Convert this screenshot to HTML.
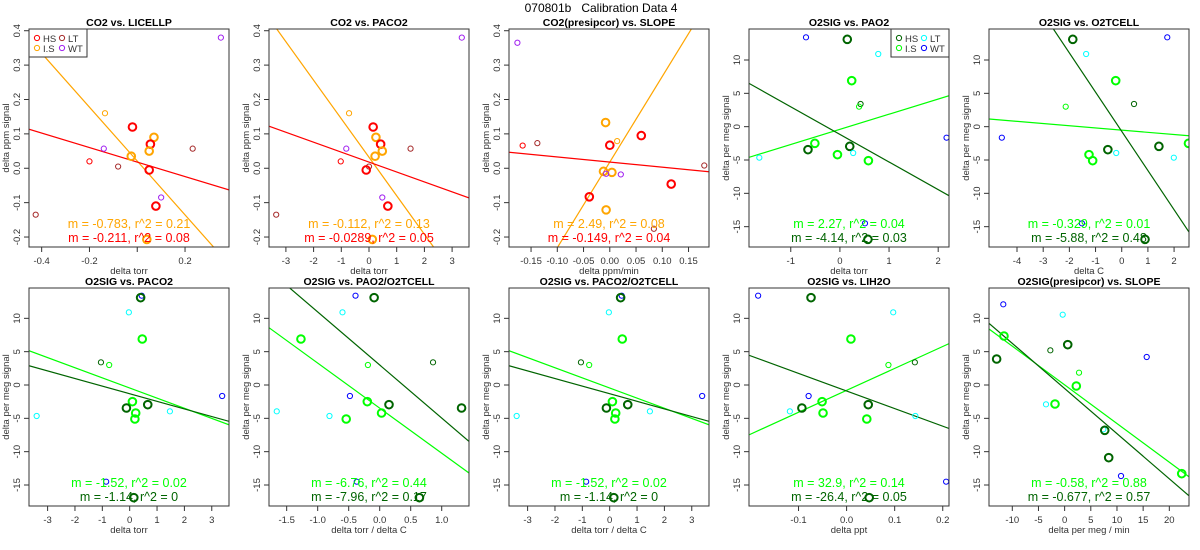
<!DOCTYPE html>
<html><head><meta charset="utf-8">
<style>
html,body{margin:0;padding:0;background:#fff;}
svg{display:block;font-family:"Liberation Sans",Arial,sans-serif;}
</style></head>
<body>
<svg id="chart" width="1200" height="550" viewBox="0 0 1200 550" xmlns="http://www.w3.org/2000/svg">
<text x="601" y="12" text-anchor="middle" font-size="12" fill="#000" style="white-space:pre">070801b   Calibration Data 4</text>
</svg>
<script>
// ---- shared data ----
const co2Groups = ["WT","LS","HS","LS","HS","WT","LS","LT","LS","HS","LT","HS","WT","HS","LT","LS"];
const co2Big    = [0,0,1,1,1,0,1,0,1,0,0,1,0,1,0,1];
const co2Y      = [0.38,0.16,0.12,0.09,0.07,0.057,0.05,0.057,0.035,0.02,0.005,-0.005,-0.085,-0.11,-0.135,-0.207];
const p1X       = [0.35,-0.135,-0.02,0.07,0.055,-0.14,0.05,0.232,-0.025,-0.2,-0.08,0.05,0.1,0.078,-0.425,0.04];
const p2X       = [3.35,-0.72,0.15,0.25,0.42,-0.82,0.48,1.5,0.22,-1.02,0.0,-0.1,0.48,0.68,-3.35,0.12];
const p3Groups  = ["WT","HS","LT","LS","HS","LS","HS","LS","LS","WT","WT","LT","HS","HS","LS","LT"];
const p3Big     = [0,0,0,1,1,0,1,1,1,0,0,0,1,1,1,0];
const p3X       = [-0.176,-0.166,-0.138,-0.008,0.060,0.014,0.000,-0.012,0.004,-0.007,0.021,0.180,0.117,-0.039,-0.007,0.084];
const p3Y       = [0.365,0.066,0.073,0.133,0.095,0.079,0.067,-0.009,-0.012,-0.016,-0.018,0.008,-0.046,-0.083,-0.121,-0.176];

const o2Groups = ["WT","HS","LT","LS","HS","LS","WT","LS","HS","HS","LT","LS","LT","LS","WT","HS"];
const o2Big    = [0,1,0,1,0,0,0,1,1,1,0,1,0,1,0,1];
const o2Y      = [13.4,13.1,10.9,6.9,3.4,3.0,-1.65,-2.5,-3.45,-2.95,-3.95,-4.2,-4.65,-5.1,-14.5,-16.9];
const p4X      = [-0.69,0.15,0.78,0.24,0.42,0.39,2.17,-0.51,-0.65,0.2,0.27,-0.05,-1.64,0.58,0.51,0.57];
const p5X      = [1.74,-1.87,-1.36,-0.23,0.47,-2.14,-4.58,2.55,-0.53,1.42,-0.21,-1.25,1.99,-1.11,-1.52,0.89];
const r2p1X    = [0.44,0.40,-0.03,0.46,-1.05,-0.75,3.38,0.10,-0.12,0.66,1.47,0.22,-3.40,0.19,-0.86,0.15];
const r2p2X    = [-0.39,-0.09,-0.60,-1.27,0.86,-0.19,-0.48,-0.20,1.32,0.15,-1.66,0.03,-0.81,-0.54,-0.37,0.64];
const r2p4X    = [-0.184,-0.074,0.097,0.009,0.142,0.087,-0.079,-0.051,-0.093,0.045,-0.118,-0.049,0.143,0.042,0.207,0.047];
const r2p5Groups = ["WT","LT","LS","HS","HS","HS","WT","LS","LS","LT","LS","LT","HS","HS","WT","LS"];
const r2p5Big    = [0,0,1,1,1,0,0,0,1,0,1,0,1,1,0,1];
const r2p5X      = [-11.72,-0.37,-11.59,-12.99,0.59,-2.73,15.68,2.75,2.23,-3.56,-1.84,7.39,7.66,8.42,10.77,22.37];
const r2p5Y      = [12.1,10.55,7.35,3.9,6.05,5.2,4.2,1.85,-0.15,-2.9,-2.85,-6.65,-6.8,-10.9,-13.65,-13.3];

// fits: [slope, intercept] for first (LS) and second (HS) line
const fitSlopes     = [[-0.783,-0.211],[-0.112,-0.0289],[2.49,-0.149],[2.27,-4.14],[-0.329,-5.88],
                       [-1.52,-1.14],[-6.76,-7.96],[-1.52,-1.14],[32.9,-26.4],[-0.58,-0.677]];
const fitIntercepts = [[0.021,0.018],[0.032,0.018],[0.018,0.018],[-0.4,-1.16],[-0.52,-0.7],
                       [-0.45,-1.31],[-3.47,3.0],[-0.45,-1.31],[-0.8,-0.9],[0.02,-0.53]];
const fitLabels = [["m = -0.783, r^2 = 0.21","m = -0.211, r^2 = 0.08"],
                   ["m = -0.112, r^2 = 0.13","m = -0.0289, r^2 = 0.05"],
                   ["m = 2.49, r^2 = 0.08","m = -0.149, r^2 = 0.04"],
                   ["m = 2.27, r^2 = 0.04","m = -4.14, r^2 = 0.03"],
                   ["m = -0.329, r^2 = 0.01","m = -5.88, r^2 = 0.48"],
                   ["m = -1.52, r^2 = 0.02","m = -1.14, r^2 = 0"],
                   ["m = -6.76, r^2 = 0.44","m = -7.96, r^2 = 0.17"],
                   ["m = -1.52, r^2 = 0.02","m = -1.14, r^2 = 0"],
                   ["m = 32.9, r^2 = 0.14","m = -26.4, r^2 = 0.05"],
                   ["m = -0.58, r^2 = 0.88","m = -0.677, r^2 = 0.57"]];
const titles = ["CO2 vs. LICELLP","CO2 vs. PACO2","CO2(presipcor) vs. SLOPE","O2SIG vs. PAO2","O2SIG vs. O2TCELL",
                "O2SIG vs. PACO2","O2SIG vs. PAO2/O2TCELL","O2SIG vs. PACO2/O2TCELL","O2SIG vs. LIH2O","O2SIG(presipcor) vs. SLOPE"];
const xTitles = ["delta torr","delta torr","delta ppm/min","delta torr","delta C",
                 "delta torr","delta torr / delta C","delta torr / delta C","delta ppt","delta per meg / min"];
const xTicks = [[-0.4,-0.2,0,0.2],[-3,-2,-1,0,1,2,3],[-0.15,-0.1,-0.05,0,0.05,0.1,0.15],[-1,0,1,2],[-4,-3,-2,-1,0,1,2],
                [-3,-2,-1,0,1,2,3],[-1.5,-1,-0.5,0,0.5,1],[-3,-2,-1,0,1,2,3],[-0.1,0,0.1,0.2],[-10,-5,0,5,10,15,20]];
const xTickLabels = [["-0.4","-0.2","","0.2"],["-3","-2","-1","0","1","2","3"],
                ["-0.15","-0.10","-0.05","0.00","0.05","0.10","0.15"],["-1","0","1","2"],["-4","-3","-2","-1","0","1","2"],
                ["-3","-2","-1","0","1","2","3"],["-1.5","-1.0","-0.5","0.0","0.5","1.0"],["-3","-2","-1","0","1","2","3"],
                ["-0.1","0.0","0.1","0.2"],["-10","-5","0","5","10","15","20"]];
const co2YTicks = [-0.2,-0.1,0,0.1,0.2,0.3,0.4];
const co2YTickLabels = ["-0.2","-0.1","0.0","0.1","0.2","0.3","0.4"];
const o2YTicks = [-15,-10,-5,0,5,10];
const o2YTickLabels = ["-15","-10","-5","0","5","10"];

// ---- layout ----
const NS="http://www.w3.org/2000/svg";
const svg=document.getElementById('chart');
function mk(tag,attrs,parent){const e=document.createElementNS(NS,tag);for(const k in attrs)e.setAttribute(k,attrs[k]);(parent||svg).appendChild(e);return e;}
const co2Col={HS:"#ff0000",LS:"#ffa500",LT:"#a52a2a",WT:"#a020f0"};
const o2Col={HS:"#006400",LS:"#00ff00",LT:"#00ffff",WT:"#0000ff"};
const panels=[
 {x:p1X,y:co2Y,g:co2Groups,b:co2Big,xl:[-0.453,0.384],yl:[-0.229,0.405],co2:true,legend:"left"},
 {x:p2X,y:co2Y,g:co2Groups,b:co2Big,xl:[-3.61,3.61],yl:[-0.229,0.405],co2:true},
 {x:p3X,y:p3Y,g:p3Groups,b:p3Big,xl:[-0.192,0.189],yl:[-0.229,0.405],co2:true},
 {x:p4X,y:o2Y,g:o2Groups,b:o2Big,xl:[-1.85,2.22],yl:[-18.05,14.65],co2:false,legend:"right"},
 {x:p5X,y:o2Y,g:o2Groups,b:o2Big,xl:[-5.07,2.57],yl:[-18.05,14.65],co2:false},
 {x:r2p1X,y:o2Y,g:o2Groups,b:o2Big,xl:[-3.68,3.63],yl:[-18.15,14.55],co2:false},
 {x:r2p2X,y:o2Y,g:o2Groups,b:o2Big,xl:[-1.785,1.44],yl:[-18.15,14.55],co2:false},
 {x:r2p1X,y:o2Y,g:o2Groups,b:o2Big,xl:[-3.68,3.63],yl:[-18.15,14.55],co2:false},
 {x:r2p4X,y:o2Y,g:o2Groups,b:o2Big,xl:[-0.203,0.213],yl:[-18.15,14.55],co2:false},
 {x:r2p5X,y:r2p5Y,g:r2p5Groups,b:r2p5Big,xl:[-14.45,23.76],yl:[-18.15,14.55],co2:false}
];
panels.forEach((p,i)=>{
  const row=Math.floor(i/5),col=i%5;
  const L=29+240*col,W=200,T=row?288:29,H=218,B=T+H,R=L+W;
  const sx=v=>L+(v-p.xl[0])/(p.xl[1]-p.xl[0])*W;
  const sy=v=>B-(v-p.yl[0])/(p.yl[1]-p.yl[0])*H;
  const cols=p.co2?co2Col:o2Col;
  const g=mk('g',{});
  
  
  const clipId='clip'+i;
  const cp=mk('clipPath',{id:clipId},g);mk('rect',{x:L,y:T,width:W,height:H},cp);
  const t=mk('text',{x:L+W/2,y:T-3,'text-anchor':'middle','font-size':10.5,'font-weight':'bold',fill:'#000'},g);
  t.textContent=titles[i];
  
  
  // x ticks
  xTicks[i].forEach((v,k)=>{
    const x=sx(v);
    mk('line',{x1:x,x2:x,y1:B,y2:B+5,stroke:'#333','stroke-width':1},g);
    const tl=mk('text',{x:x,y:B+17,'text-anchor':'middle','font-size':9.5,fill:'#333'},g);
    tl.textContent=xTickLabels[i][k];
    
    
  });
  mk('line',{x1:sx(xTicks[i][0]),x2:sx(xTicks[i][xTicks[i].length-1]),y1:B,y2:B,stroke:'#333'},g);
  const yt=p.co2?co2YTicks:o2YTicks, ytl=p.co2?co2YTickLabels:o2YTickLabels;
  yt.forEach((v,k)=>{
    const y=sy(v);
    mk('line',{x1:L-5,x2:L,y1:y,y2:y,stroke:'#333'},g);
    const tl=mk('text',{x:L-9,y:y,'text-anchor':'middle','font-size':9.5,fill:'#333',transform:`rotate(-90 ${L-9} ${y})`},g);
    tl.textContent=ytl[k];
    
    
  });
  const xt=mk('text',{x:L+W/2,y:B+27,'text-anchor':'middle','font-size':9.5,fill:'#333'},g);
  xt.textContent=xTitles[i];
  
  
  const yx=L-20,yy=T+H/2;
  const ylab=mk('text',{x:yx,y:yy,'text-anchor':'middle','font-size':9.5,fill:'#333',transform:`rotate(-90 ${yx} ${yy})`},g);
  ylab.textContent=p.co2?"delta ppm signal":"delta per meg signal";
  
  
  // fit lines
  const lineCols=[cols.LS,cols.HS];
  [0,1].forEach(j=>{
    const m=fitSlopes[i][j],a=fitIntercepts[i][j];
    const ln=mk('line',{x1:sx(p.xl[0]),y1:sy(a+m*p.xl[0]),x2:sx(p.xl[1]),y2:sy(a+m*p.xl[1]),stroke:lineCols[j],'stroke-width':1.2,'clip-path':`url(#${clipId})`},g);
    
    
  });
  // points
  p.x.forEach((xv,k)=>{
    const big=p.b[k];
    const c=mk('circle',{cx:sx(xv),cy:sy(p.y[k]),r:big?3.8:2.6,fill:'none',stroke:cols[p.g[k]],'stroke-width':big?2:1,'clip-path':`url(#${clipId})`},g);
    
    
  });
  // fit labels
  [0,1].forEach(j=>{
    const ft=mk('text',{x:L+W/2,y:B-(j?10:24)+5,'text-anchor':'middle','font-size':12.5,fill:lineCols[j]},g);
    ft.textContent=fitLabels[i][j];
    
    
  });
  // legend
  if(p.legend){
    const lw=58,lh=28,lx=p.legend==="left"?L:R-lw,ly=T;
    const lg=mk('g',{},g);
    
    
    mk('rect',{x:lx,y:ly,width:lw,height:lh,fill:'#fff',stroke:'#333'},lg);
    [["HS",0,0],["LT",1,0],["LS",0,1],["WT",1,1]].forEach(([k,cx,cy])=>{
      const ex=lx+8+cx*25,ey=ly+9+cy*10;
      mk('circle',{cx:ex,cy:ey,r:2.6,fill:'none',stroke:cols[k],'stroke-width':1},lg);
      const lt=mk('text',{x:ex+6,y:ey+4,'font-size':9.5,fill:'#333'},lg);
      lt.textContent=k==="LS"?"I.S":k;
      
      
    });
  }
  mk('rect',{x:L,y:T,width:W,height:H,fill:'none',stroke:'#333','stroke-width':1},g);
});
</script>
</body></html>
